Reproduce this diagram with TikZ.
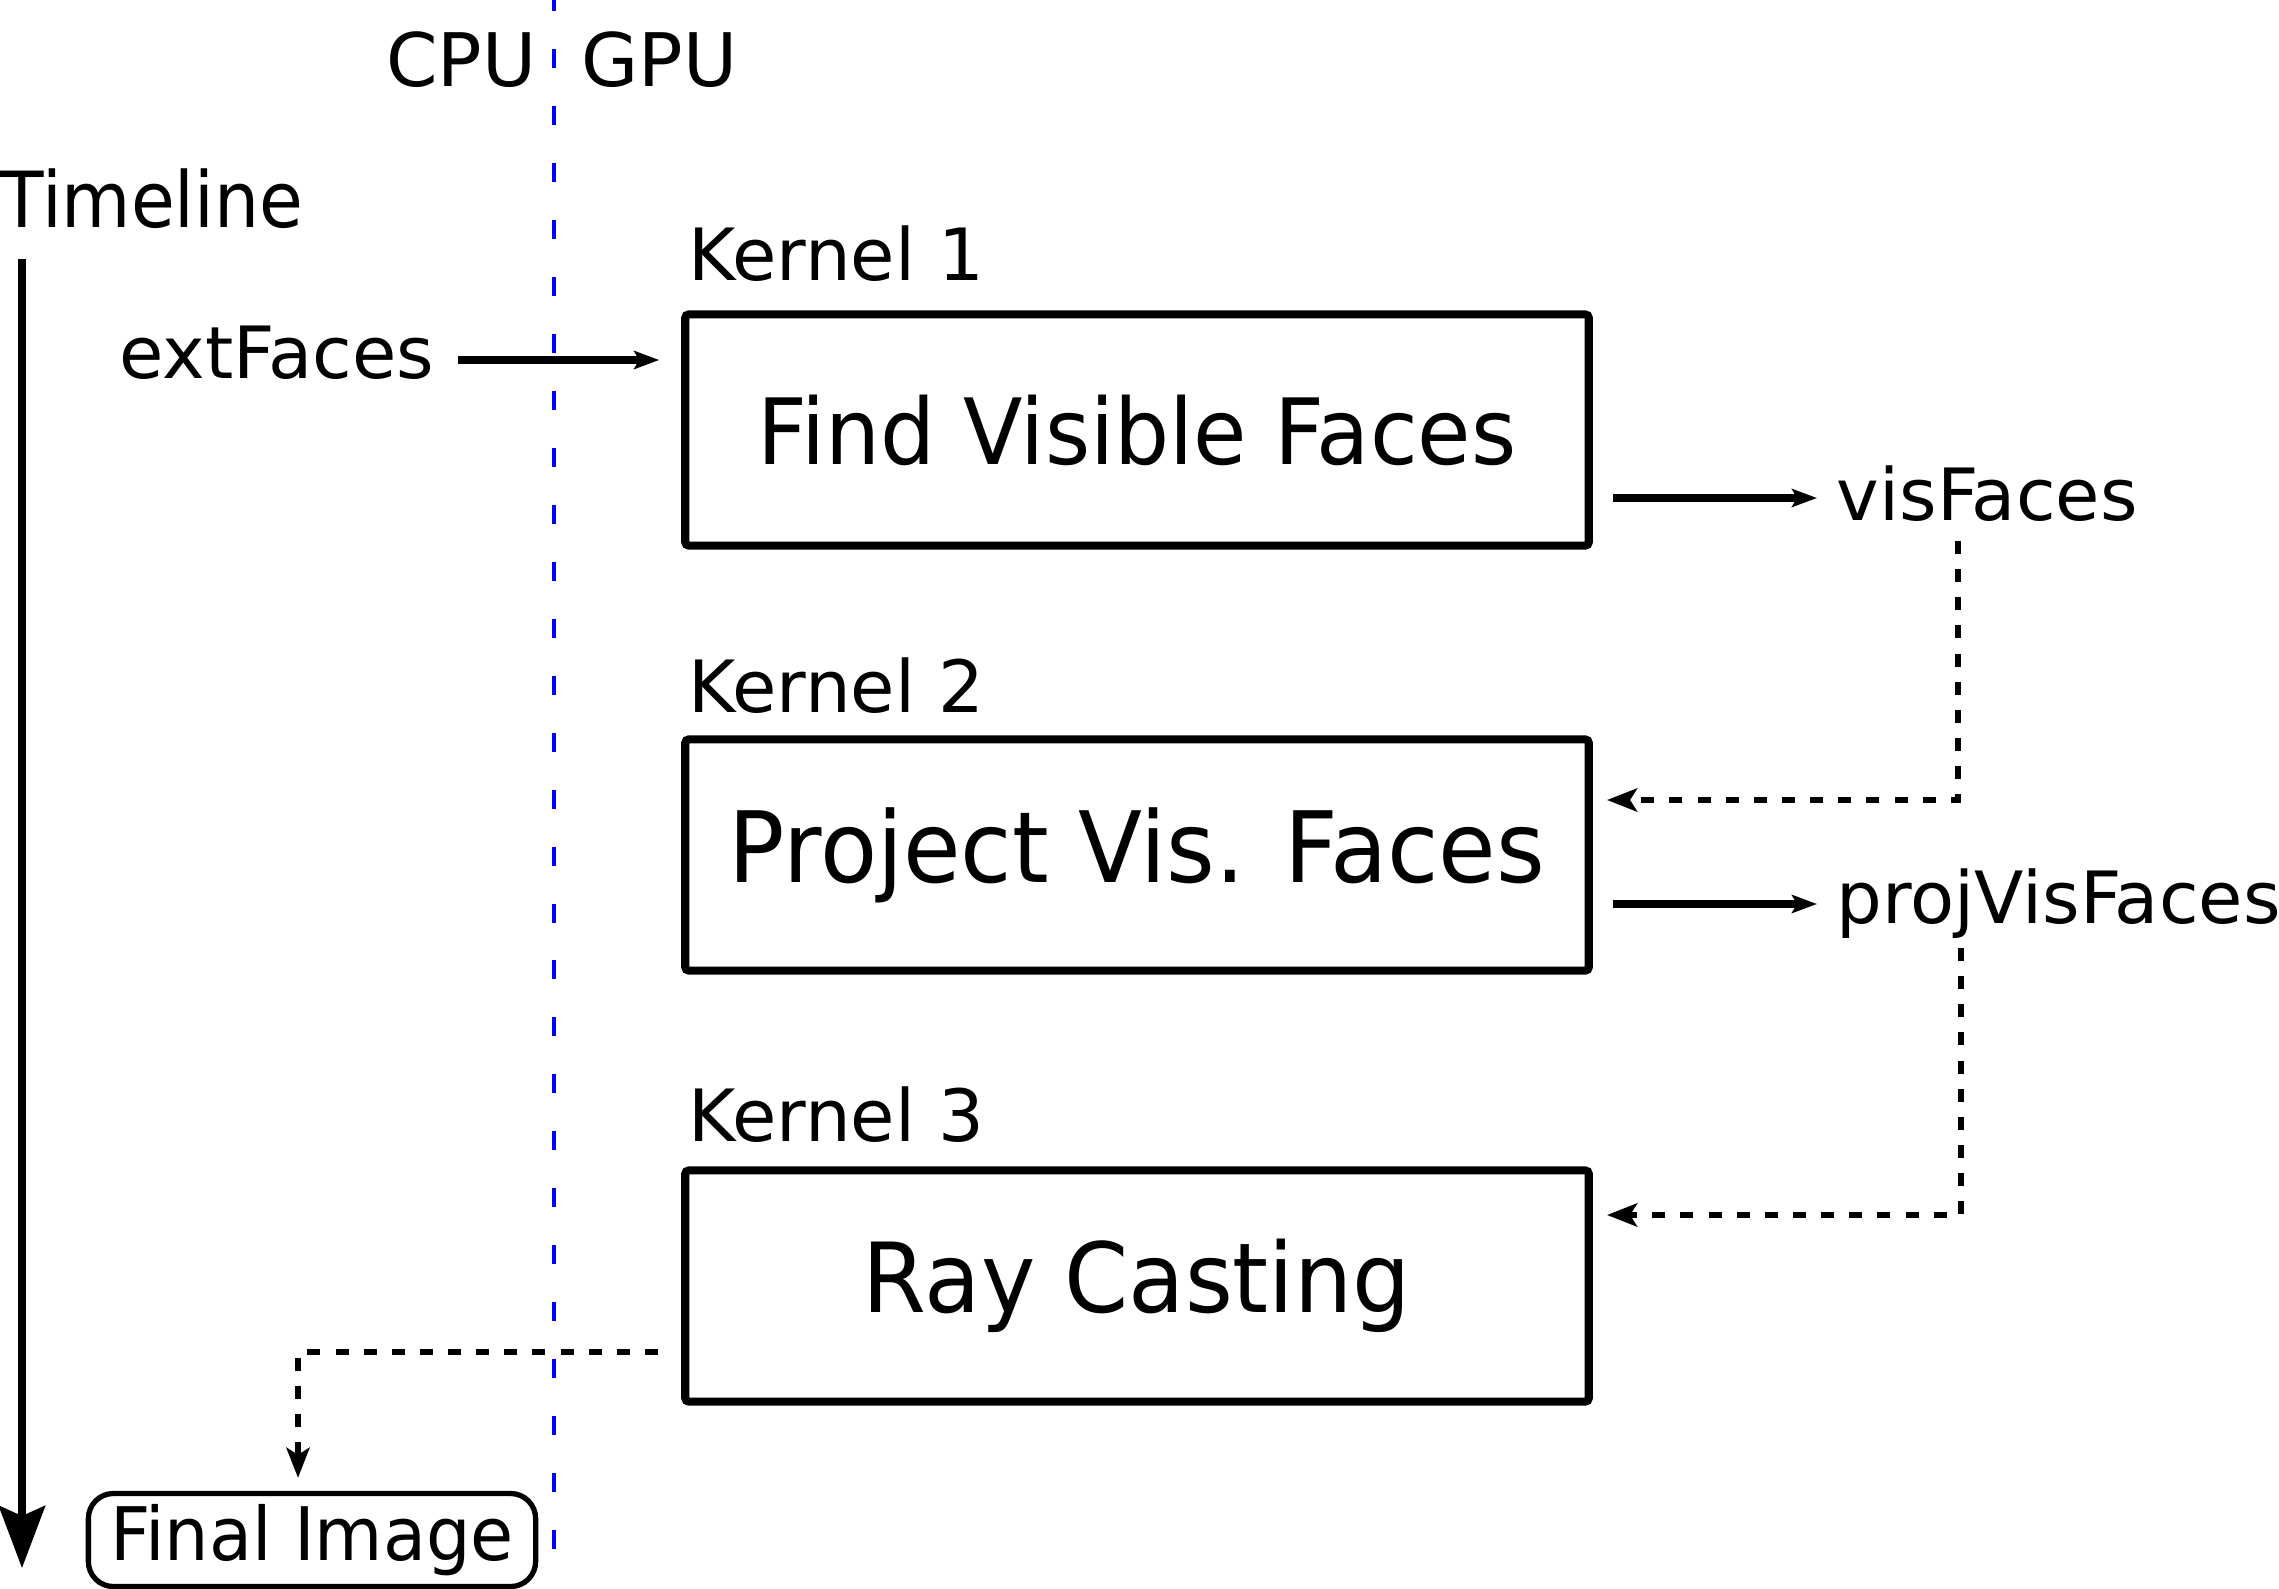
\documentclass[tikz,border=0pt]{standalone}
\usepackage{fontspec}
\setmainfont{DejaVu Sans}
\newfontfamily\boxfont[FakeStretch=0.95]{DejaVu Sans}
\newfontfamily\tlfont[FakeStretch=0.92]{DejaVu Sans}
\usetikzlibrary{%
  arrows.meta,%
  calc%
}
\tikzset{
  kernelbox/.style={draw, line width=2.3pt, rounded corners=1pt,
    minimum width=9.03cm, minimum height=2.31cm, inner sep=0pt},
  lbl/.style={inner sep=0pt, font=\fontsize{21}{24}\selectfont},
  flow/.style={line width=2pt, -{Stealth[length=0.25cm,width=0.18cm,inset=0.05cm]}},
  back/.style={line width=1.7pt, dash pattern=on 3.7pt off 4.3pt,
    -{Stealth[length=0.3cm,width=0.23cm,inset=0.07cm]}}
}

\begin{document}
\begin{tikzpicture}[x=0.01cm,y=-0.01cm]
\useasboundingbox (0,0) rectangle (2279,1588);
% CPU / GPU split
\draw[blue, line width=1.4pt, dash pattern=on 5.4pt off 10.8pt] (554,-8) -- (554,1575);
\node[lbl, anchor=base east] (cpu) at (537,87) {CPU};
\node[lbl, anchor=base west] (gpu) at (581,87) {GPU};
% timeline
\node[lbl, anchor=base west, font=\tlfont\fontsize{22}{26}\selectfont] (tl) at (0,228) {Timeline};
\coordinate (tlend) at (22,1568);
\draw[line width=2.1pt, -{Stealth[length=0.62cm,width=0.46cm,inset=0.1cm]}] (22,259) -- (tlend);
% kernels
\node[kernelbox] (k1) at (1137,430) {\boxfont\fontsize{26}{30}\selectfont Find Visible Faces};
\node[kernelbox] (k2) at (1137,855) {\boxfont\fontsize{28}{32}\selectfont Project Vis. Faces};
\node[kernelbox] (k3) at (1137,1286) {\boxfont\fontsize{27.5}{32}\selectfont Ray Casting};
\node[lbl, anchor=base west, font=\fontsize{20.5}{24}\selectfont] (kl1) at (688,280) {Kernel 1};
\node[lbl, anchor=base west, font=\fontsize{20.5}{24}\selectfont] (kl2) at (688,712) {Kernel 2};
\node[lbl, anchor=base west, font=\fontsize{20.5}{24}\selectfont] (kl3) at (688,1141) {Kernel 3};
% data
\node[lbl, anchor=base east, font=\fontsize{20.5}{24}\selectfont] (ext) at (435,378) {extFaces};
\node[lbl, anchor=base west, font=\fontsize{20.5}{24}\selectfont] (vis) at (1836,520) {visFaces};
\node[lbl, anchor=base west, font=\fontsize{20.5}{24}\selectfont] (pvis) at (1836,923) {projVisFaces};
\node[draw, line width=1.5pt, rounded corners=0.25cm, minimum width=4.47cm,
  minimum height=0.93cm, inner sep=0pt, font=\boxfont\fontsize{21}{24}\selectfont]
  (img) at (312,1540) {Final Image};
% connectors
\coordinate (k2in) at (1607,800);
\coordinate (k3in) at (1607,1215);
\coordinate (k3out) at (658,1352);
\draw[flow, shorten <=0.23cm] (ext.east |- 0,360) -- ($(k1.west |- 0,360)+(-22,0)$);
\draw[flow] (1613,498) -- ($(vis.west |- 0,498)+(-19,0)$);
\draw[flow] (1613,904) -- ($(pvis.west |- 0,904)+(-19,0)$);
\draw[back] (1958,541) |- (k2in);
\draw[back] (1961,948) |- (k3in);
\draw[back] (k3out) -| ($(img.north)+(-14,-13)$);
\end{tikzpicture}
\end{document}
